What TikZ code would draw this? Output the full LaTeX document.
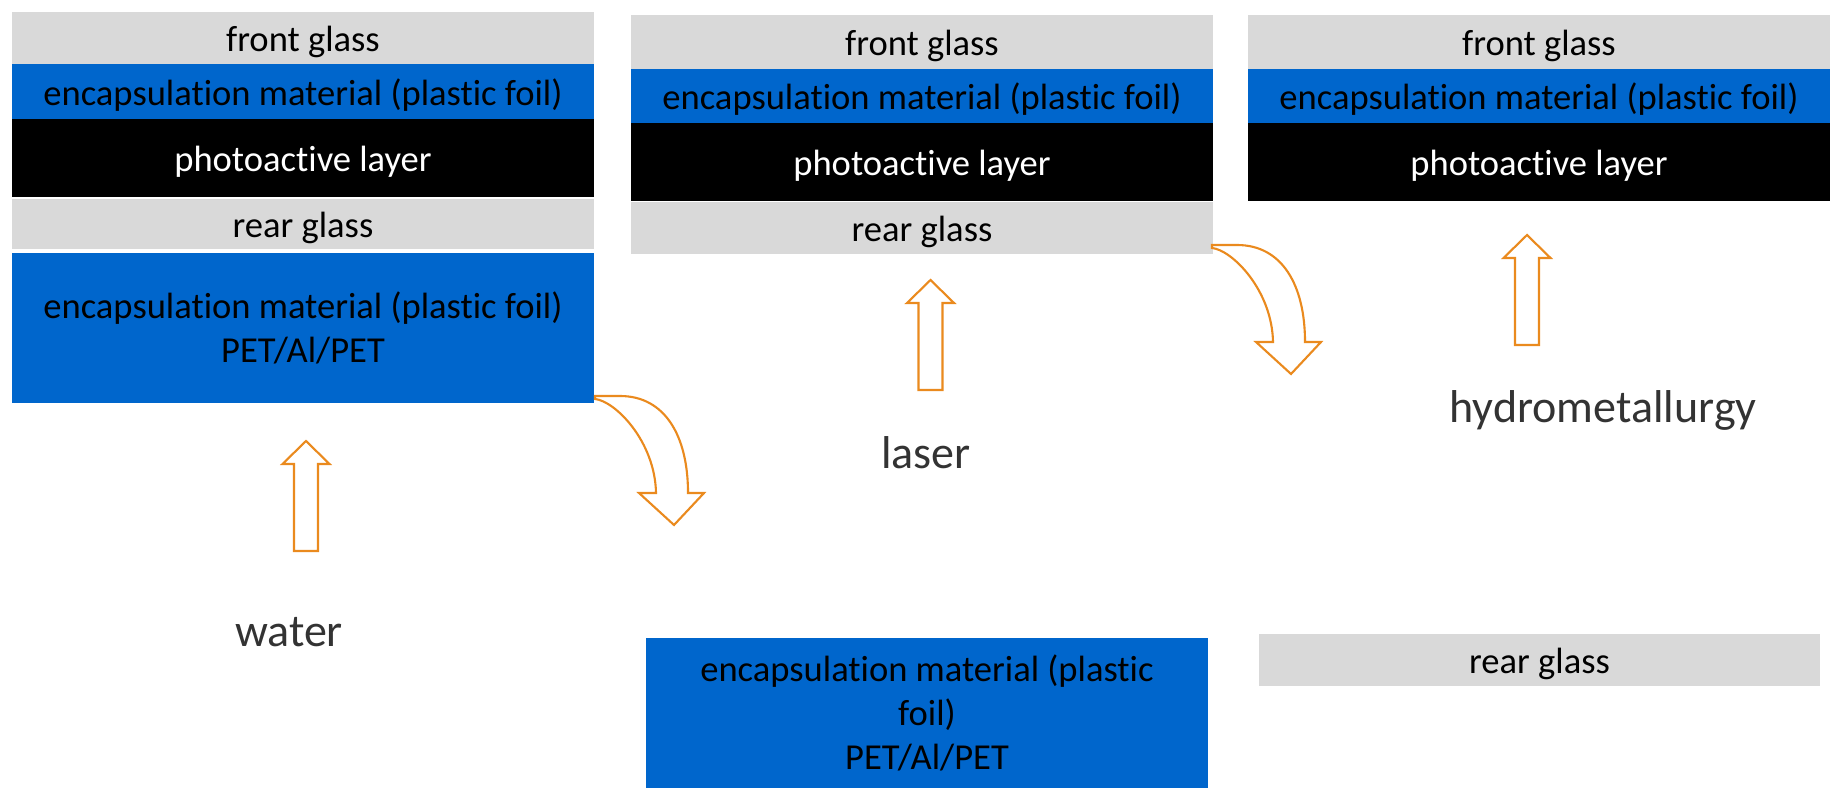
\documentclass[tikz,border=0pt]{standalone}
\usepackage{fontspec}
\setmainfont[Ligatures=NoCommon]{Carlito}
\usetikzlibrary{positioning}

\definecolor{glassgray}{HTML}{D9D9D9}
\definecolor{foilblue}{HTML}{0066CC}
\definecolor{arroworange}{HTML}{EA8A1E}
\definecolor{labelgray}{HTML}{333333}

\tikzset{
  layer/.style={minimum width=58.2mm, inner sep=0pt, outer sep=0pt, align=center,
    text height=1.9ex, text depth=.25ex, font=\fontsize{10.4}{12.6}\selectfont},
  glass/.style={layer, fill=glassgray, minimum height=5.2mm},
  foil/.style={layer, fill=foilblue, minimum height=5.5mm},
  active/.style={layer, fill=black, text=white, minimum height=7.8mm},
  method/.style={text=labelgray, font=\fontsize{13.1}{16}\selectfont},
  blockarrow/.style={draw=arroworange, line width=0.6pt, fill=white, line join=miter},
  pics/uparrow/.style={code={
    \draw[blockarrow] (-12,0) -- (-12,-87) -- (-23.5,-87) -- (0,-110)
      -- (23.5,-87) -- (12,-87) -- (12,0) -- cycle;}},
  pics/bendarrow/.style={code={
    \draw[blockarrow] (0,0) -- (25,0) .. controls (70,0) and (93,40) .. (93,97)
      -- (109,97) -- (79,129) -- (44,97) -- (61,97)
      .. controls (60,45) and (20,5) .. (0,3) -- cycle;}}
}

\begin{document}
\begin{tikzpicture}[x=0.1mm, y=-0.1mm]
\useasboundingbox (0,0) rectangle (1835,794);

%%%%%%%%%%%%%-------------module
\node[glass, anchor=north west] (fg1) at (12,12) {front glass};
\node[foil, below=0pt of fg1] (enc1) {encapsulation material (plastic foil)};
\node[active, below=0pt of enc1] (pa1) {photoactive layer};
\node[glass, minimum height=5mm, below=0.2mm of pa1] (rg1) {rear glass};
\node[foil, minimum height=15mm, below=0.4mm of rg1, text height=, text depth=] (foil1) {encapsulation material (plastic foil)\\PET/Al/PET};

%%%%%%%%%%%%%-------------after water
\node[glass, minimum height=5.4mm, anchor=north west] (fg2) at (631,15) {front glass};
\node[foil, minimum height=5.4mm, below=0pt of fg2] (enc2) {encapsulation material (plastic foil)};
\node[active, below=0pt of enc2] (pa2) {photoactive layer};
\node[glass, below=0.1mm of pa2] (rg2) {rear glass};
\node[foil, minimum width=56.2mm, minimum height=15mm, anchor=north west, text height=, text depth=] (foil2) at (646,638) {encapsulation material (plastic\\foil)\\PET/Al/PET};

%%%%%%%%%%%%%-------------after laser
\node[glass, minimum height=5.4mm, anchor=north west] (fg3) at (1248,15) {front glass};
\node[foil, minimum height=5.4mm, below=0pt of fg3] (enc3) {encapsulation material (plastic foil)};
\node[active, below=0pt of enc3] (pa3) {photoactive layer};
\node[glass, minimum width=56.1mm, anchor=north west] (rg3) at (1259,634) {rear glass};

%%%%%%%%%%%%%-------------methods
\node[method] (water) at (289,632) {water};
\node[method] (laser) at (926,453) {laser};
\node[method] (hydro) at (1603,410) {hydrometallurgy};

\pic at (306,551) {uparrow};
\pic at (930.5,390) {uparrow};
\pic at (1527,345) {uparrow};

\pic at (595,396) {bendarrow};
\pic at (1212,245) {bendarrow};

\end{tikzpicture}
\end{document}
